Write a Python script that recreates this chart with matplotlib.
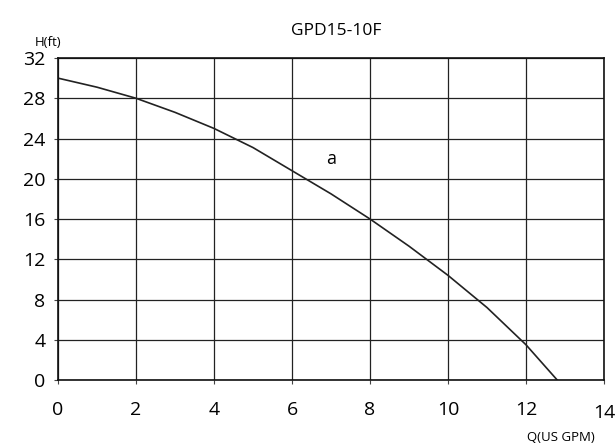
import matplotlib
matplotlib.use("Agg")
import matplotlib.pyplot as plt

# pump curve GPD15-10F
flow_gpm = [0, 1, 2, 3, 4, 5, 6, 7, 8, 9, 10, 11, 12, 12.8]
head_ft = [30, 29.1, 28, 26.6, 25, 23.1, 20.8, 18.5, 16, 13.3, 10.4, 7.2, 3.5, 0]

x_ticks = [0, 2, 4, 6, 8, 10, 12, 14]
y_ticks = [0, 4, 8, 12, 16, 20, 24, 28, 32]

plt.rcParams['font.family'] = ['Open Sans', 'DejaVu Sans']

fig = plt.figure(figsize=(6.16, 4.47), dpi=100)
ax = fig.add_axes([0.0942, 0.1499, 0.8863, 0.7203])

ax.plot(flow_gpm, head_ft, color='#222222', lw=1.2)

ax.set_xlim(0, 14)
ax.set_ylim(0, 32)
ax.set_xticks(x_ticks)
ax.set_yticks(y_ticks)
ax.set_xticklabels([str(v) for v in x_ticks[:-1]] + [''])
ax.grid(True, color='#222222', lw=0.9)
ax.tick_params(labelsize=14, length=3, width=0.8, color='#444444')
ax.tick_params(axis='x', pad=12)
ax.tick_params(axis='y', pad=6)
for s in ax.spines.values():
    s.set_color('#111111')
    s.set_linewidth(1.2)

# the 14 label sits lower than the rest
ax.text(14, -3.3, '14', ha='center', va='center', fontsize=14)

ax.text(7.0, 22.0, 'a', ha='center', va='center', fontsize=13)
fig.text(0.545, 0.93, 'GPD15-10F', ha='center', va='center', fontsize=12.5)
fig.text(0.078, 0.905, 'H(ft)', ha='center', va='center', fontsize=9.5)
fig.text(0.91, 0.022, 'Q(US GPM)', ha='center', va='center', fontsize=9.5)

fig.savefig('out.png', dpi=100)
